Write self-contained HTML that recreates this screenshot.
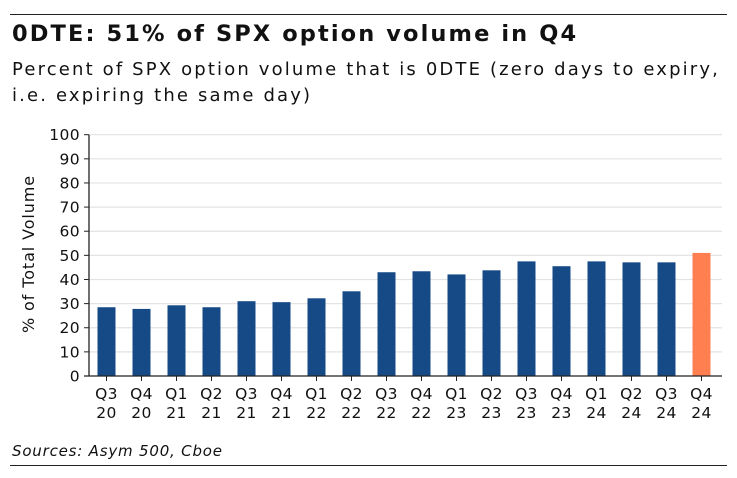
<!DOCTYPE html>
<html><head><meta charset="utf-8"><style>
body{margin:0;background:#fff;width:737px;height:478px;overflow:hidden;font-family:"DejaVu Sans","Liberation Sans",sans-serif;color:#111}
.rule{position:absolute;left:10px;width:717px;height:1px;background:#222}
#title{position:absolute;left:12px;top:21px;font-size:22.5px;font-weight:bold;letter-spacing:2.1px;white-space:nowrap}
#sub{position:absolute;left:12px;top:57px;font-size:18px;line-height:26px;width:725px;letter-spacing:2.15px;white-space:nowrap}
#src{position:absolute;left:12px;top:442px;font-size:15px;font-style:italic;letter-spacing:0.8px}
svg{position:absolute;left:0;top:0}
</style></head><body>
<div class="rule" style="top:14px"></div>
<div id="title">0DTE: 51% of SPX option volume in Q4</div>
<div id="sub">Percent of SPX option volume that is 0DTE (zero days to expiry,<br>i.e. expiring the same day)</div>
<svg id="chart" width="737" height="478"></svg>
<div id="src">Sources: Asym 500, Cboe</div>
<div class="rule" style="top:465px"></div>
<script>
const quarters=["Q3","Q4","Q1","Q2","Q3","Q4","Q1","Q2","Q3","Q4","Q1","Q2","Q3","Q4","Q1","Q2","Q3","Q4"];
const years=["20","20","21","21","21","21","22","22","22","22","23","23","23","23","24","24","24","24"];
const values=[28.5,27.8,29.3,28.5,31,30.6,32.2,35.1,43,43.4,42.1,43.8,47.5,45.5,47.5,47.1,47.1,51];
const yTicks=[0,10,20,30,40,50,60,70,80,90,100];
const NS="http://www.w3.org/2000/svg";
const svg=document.getElementById('chart');
const x0=89,y0=376,yTop=134.7,step=35,bw=18;
const y=v=>y0-(v/100)*(y0-yTop);
const xc=i=>106.5+i*step;
function mk(t,a,p){const e=document.createElementNS(NS,t);for(const k in a)e.setAttribute(k,a[k]);(p||svg).appendChild(e);return e;}
yTicks.forEach(t=>{
  if(t>0){const g=mk('line',{x1:x0,x2:722,y1:y(t),y2:y(t),stroke:'#e3e3e3','stroke-width':1.2});
  
  }
  const tk=mk('line',{x1:x0-5,x2:x0,y1:y(t),y2:y(t),stroke:'#222'});
  
  
  const l=mk('text',{x:x0-9,y:y(t)+5.5,'text-anchor':'end','font-size':15.5,fill:'#111','letter-spacing':0.4});
  l.textContent=t;
  
  
});
values.forEach((v,i)=>{
  const r=mk('rect',{x:xc(i)-bw/2,y:y(v),width:bw,height:y0-y(v),fill:i===values.length-1?'#ff7f50':'#154a87'});
  
  
  const tk=mk('line',{x1:xc(i),x2:xc(i),y1:y0,y2:y0+5,stroke:'#222'});
  
  
  const t=mk('text',{x:xc(i),y:399,'text-anchor':'middle','font-size':15.5,fill:'#111','letter-spacing':0.4});
  t.textContent=quarters[i];
  
  
  const t2=mk('text',{x:xc(i),y:418,'text-anchor':'middle','font-size':15.5,fill:'#111','letter-spacing':0.4});
  t2.textContent=years[i];
  
  
});
const ax=mk('line',{x1:x0,x2:x0,y1:yTop,y2:y0,stroke:'#222','stroke-width':1.3});


const bx=mk('line',{x1:x0-5,x2:722,y1:y0,y2:y0,stroke:'#222','stroke-width':1.3});


const yt=mk('text',{x:0,y:0,transform:'translate(34,254) rotate(-90)','text-anchor':'middle','font-size':16,fill:'#111','letter-spacing':0.9});
yt.textContent='% of Total Volume';


</script>
</body></html>
